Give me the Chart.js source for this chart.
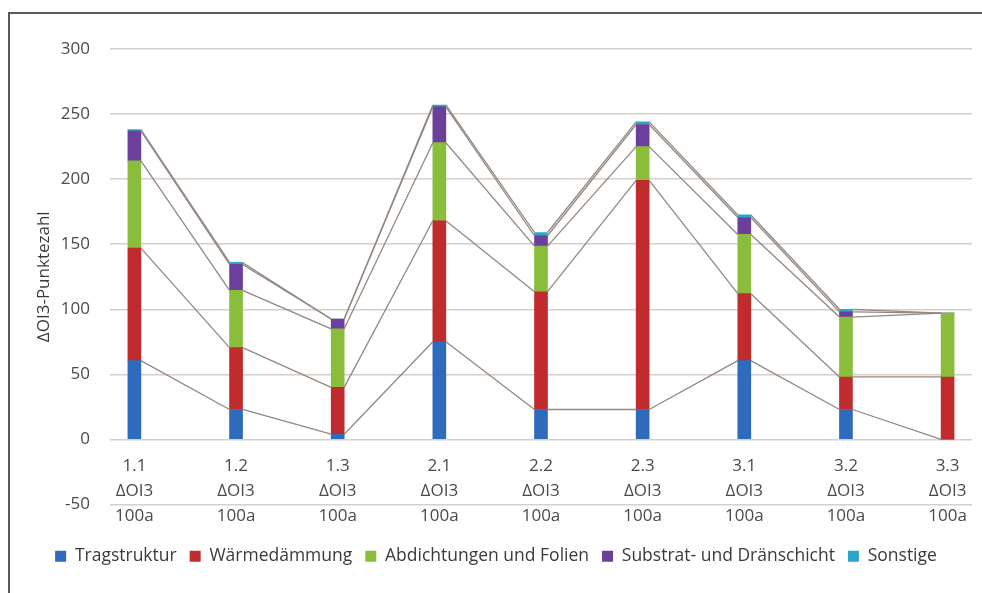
<!DOCTYPE html>
<html>
<head>
<meta charset="utf-8">
<script src="https://cdn.jsdelivr.net/npm/chart.js@4/dist/chart.umd.min.js"></script>
<style>
  html, body { margin: 0; padding: 0; background: #fff; }
  #wrap { position: relative; width: 982px; height: 593px; }
  #frame {
    position: absolute; left: 8px; top: 12px; right: 0; bottom: 0;
    border-left: 2px solid #5a5a5a; border-top: 2px solid #5a5a5a;
    pointer-events: none;
  }
  canvas { position: absolute; left: 0; top: 0; }
</style>
</head>
<body>
<div id="wrap">
  <canvas id="chart" width="982" height="593"></canvas>
  <div id="frame"></div>
</div>
<script>
// categories (x axis), one label per bar, shown in three lines
const categories = ["1.1", "1.2", "1.3", "2.1", "2.2", "2.3", "3.1", "3.2", "3.3"];
const categorySuffix = ["ΔOI3", "100a"];

// stacked segments
const tragstruktur   = [60.5, 23, 4, 75, 23, 23, 60.5, 23, 0];
const waermedaemmung = [86.5, 47.5, 36, 93, 90.5, 176, 51.5, 25, 48];
const abdichtungen   = [67, 44, 45, 60, 35, 26, 45.5, 46, 49];
const substrat       = [23, 20, 7.5, 27.5, 8, 17, 13, 4, 0];
const sonstige       = [1, 1.5, 0, 1.5, 2.5, 2, 2, 2, 0];

const yTicks = [-50, 0, 50, 100, 150, 200, 250, 300];

const series = [
  { label: "Tragstruktur", data: tragstruktur, color: "#2e6bbd" },
  { label: "Wärmedämmung", data: waermedaemmung, color: "#c02b2e" },
  { label: "Abdichtungen und Folien", data: abdichtungen, color: "#8bbd3c" },
  { label: "Substrat- und Dränschicht", data: substrat, color: "#6b3f9c" },
  { label: "Sonstige", data: sonstige, color: "#2aa6c9" },
];

const FONT = "'Open Sans', sans-serif";

// Excel-style series lines: join the top of each segment to the same segment of the next bar
const seriesLines = {
  id: "seriesLines",
  afterDatasetsDraw(chart) {
    const ctx = chart.ctx;
    ctx.save();
    ctx.strokeStyle = "#938780";
    ctx.lineWidth = 1.3;
    chart.data.datasets.forEach((ds, i) => {
      const bars = chart.getDatasetMeta(i).data;
      for (let j = 0; j < bars.length - 1; j++) {
        const a = bars[j], b = bars[j + 1];
        ctx.beginPath();
        ctx.moveTo(a.x + a.width / 2, a.y);
        ctx.lineTo(b.x - b.width / 2, b.y);
        ctx.stroke();
      }
    });
    ctx.restore();
  },
};

new Chart(document.getElementById("chart"), {
  type: "bar",
  data: {
    datasets: series.map((s) => ({
      label: s.label,
      data: s.data.map((v, i) => ({ x: i, y: v })),
      backgroundColor: s.color,
      borderWidth: 0,
      barThickness: 13,
    })),
  },
  options: {
    responsive: false,
    animation: false,
    layout: { padding: { left: 20, right: 10, top: 49, bottom: 18 } },
    scales: {
      x: {
        type: "linear",
        stacked: true,
        offset: false,
        min: -0.24,
        max: 8.24,
        position: { y: 0 },
        afterBuildTicks: (scale) => {
          scale.ticks = categories.map((_, i) => ({ value: i }));
        },
        grid: { display: false, drawTicks: false },
        border: { display: false },
        ticks: {
          autoSkip: false,
          maxRotation: 0,
          padding: 14,
          color: "#4a4a4a",
          font: { family: FONT, size: 17, lineHeight: 1.48 },
          callback: (v) => [categories[v], ...categorySuffix],
        },
      },
      y: {
        stacked: true,
        min: -50,
        max: 300,
        afterBuildTicks: (scale) => {
          scale.ticks = yTicks.map((v) => ({ value: v }));
        },
        afterFit: (scale) => { scale.width = 90; },
        grid: { color: "#d6cec8", lineWidth: 1.5, drawTicks: false },
        border: { display: false },
        ticks: {
          padding: 20,
          color: "#4a4a4a",
          font: { family: FONT, size: 17 },
        },
        title: {
          display: true,
          text: "ΔOI3-Punktezahl",
          color: "#3a3a3a",
          font: { family: FONT, size: 17 },
          padding: { top: 14, bottom: 0 },
        },
      },
    },
    plugins: {
      legend: {
        position: "bottom",
        title: { display: true, text: " ", font: { size: 10 }, padding: 9 },
        labels: {
          boxWidth: 11,
          boxHeight: 11,
          padding: 13,
          color: "#3a3a3a",
          font: { family: FONT, size: 17.5 },
        },
      },
      tooltip: { enabled: false },
    },
  },
  plugins: [seriesLines],
});
</script>
</body>
</html>
